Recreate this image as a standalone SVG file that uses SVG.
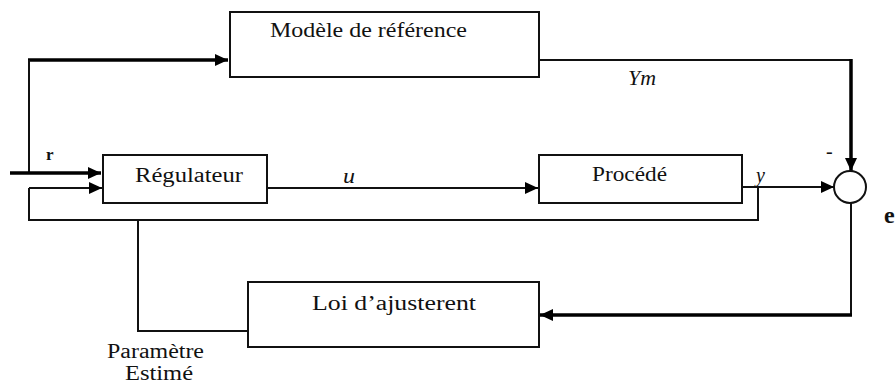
<svg xmlns="http://www.w3.org/2000/svg" width="896" height="383" viewBox="0 0 896 383">
<style>
.box{fill:#fff;stroke:#111;stroke-width:2}
.t{font-family:"Liberation Serif","DejaVu Serif","Times New Roman",serif;font-size:20px;fill:#111}
.it{font-style:italic}
.b{font-weight:bold}
.ln{fill:none;stroke:#111;stroke-width:2}
.thk{fill:none;stroke:#000;stroke-width:3.5}
</style>
<defs>
<marker id="ah" markerUnits="userSpaceOnUse" markerWidth="14" markerHeight="12" refX="13" refY="6" orient="auto">
<path d="M0,0 L13,6 L0,12 Z" fill="#000"/>
</marker>
</defs>
<rect width="896" height="383" fill="#fff"/>
<g id="connectors">
<path class="thk" d="M28,60 H228" marker-end="url(#ah)"/>
<path class="ln" d="M29,60 V173"/>
<path class="thk" d="M10,173 H101" marker-end="url(#ah)"/>
<path class="ln" d="M29,188 H102" marker-end="url(#ah)"/>
<path class="ln" d="M29,188 V220 H758 V187"/>
<path class="ln" d="M267,188 H538" marker-end="url(#ah)"/>
<path class="ln" d="M742,187 H834" marker-end="url(#ah)"/>
<path class="ln" d="M539,60 H851"/>
<path class="thk" d="M851,59 V171" marker-end="url(#ah)"/>
<path class="ln" d="M851,203 V315"/>
<path class="thk" d="M852,315 H540" marker-end="url(#ah)"/>
<path class="ln" d="M138,220 V331 H248"/>
</g>
<g id="model">
<rect class="box" x="230" y="12" width="309" height="65"/>
<text class="t" x="270" y="37" textLength="197" lengthAdjust="spacingAndGlyphs">Modèle de référence</text>
</g>
<g id="regulateur">
<rect class="box" x="103" y="155" width="164" height="48"/>
<text class="t" x="135" y="182" textLength="108" lengthAdjust="spacingAndGlyphs">Régulateur</text>
</g>
<g id="procede">
<rect class="box" x="539" y="155" width="203" height="48"/>
<text class="t" x="592" y="181" textLength="75" lengthAdjust="spacingAndGlyphs">Procédé</text>
</g>
<g id="loi">
<rect class="box" x="248" y="282" width="291" height="65"/>
<text class="t" x="312" y="310" textLength="164" lengthAdjust="spacingAndGlyphs">Loi d’ajusterent</text>
</g>
<g id="sum">
<circle cx="850" cy="187" r="16" fill="#fff" stroke="#111" stroke-width="2"/>
<text class="t" x="826" y="158">-</text>
</g>
<g id="labels">
<text class="t it" x="628" y="85" textLength="28" lengthAdjust="spacingAndGlyphs">Ym</text>
<text class="t it" x="343" y="183" textLength="12" lengthAdjust="spacingAndGlyphs">u</text>
<text class="t it" x="756" y="182">y</text>
<text class="t b" x="46" y="160" style="font-size:17px">r</text>
<text class="t b" x="884" y="223" style="font-size:24px">e</text>
<text class="t" x="107" y="358" textLength="97" lengthAdjust="spacingAndGlyphs">Paramètre</text>
<text class="t" x="125" y="380" textLength="68" lengthAdjust="spacingAndGlyphs">Estimé</text>
</g>
</svg>
